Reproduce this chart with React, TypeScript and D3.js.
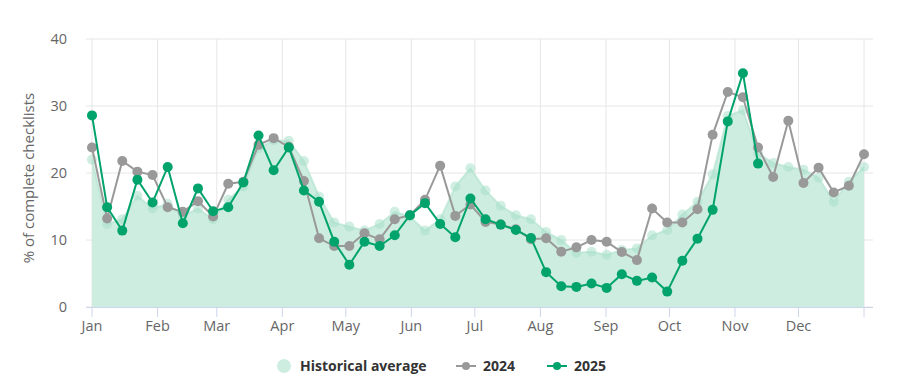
import React from "react";
import * as d3 from "d3";

const monthLabels = ["Jan", "Feb", "Mar", "Apr", "May", "Jun", "Jul", "Aug", "Sep", "Oct", "Nov", "Dec"];
const monthStartDays = [0, 31, 59, 90, 120, 151, 181, 212, 243, 273, 304, 334, 365];
const yTicks = [0, 10, 20, 30, 40];

const historical = [
  22.0, 12.4, 13.1, 16.6, 14.7, 15.4, 13.6, 14.7, 13.1, 16.0, 18.0, 23.7, 24.9, 24.8, 21.8, 16.5,
  12.6, 12.0, 11.4, 12.4, 14.2, 13.5, 11.4, 13.1, 18.0, 20.7, 17.4, 15.1, 13.7, 13.1, 11.2, 10.0,
  8.1, 8.25, 7.8, 8.5, 8.75, 10.7, 11.5, 13.8, 15.7, 19.8, 28.5, 29.4, 22.9, 21.5, 20.9, 20.5,
  19.3, 15.7, 18.7, 20.9,
];
const y2024 = [
  23.8, 13.2, 21.8, 20.2, 19.7, 14.9, 14.2, 15.8, 13.5, 18.4, 18.7, 24.2, 25.2, 23.9, 18.8, 10.25,
  9.1, 9.1, 11.0, 10.1, 13.1, 13.7, 16.0, 21.1, 13.6, 15.3, 12.7, 12.3, 11.6, 10.1, 10.25, 8.25,
  8.9, 10.0, 9.75, 8.2, 7.0, 14.7, 12.6, 12.6, 14.6, 25.7, 32.1, 31.3, 23.8, 19.4, 27.8, 18.5,
  20.8, 17.1, 18.1, 22.8,
];
const y2025 = [
  28.6, 14.9, 11.4, 19.0, 15.6, 20.9, 12.5, 17.7, 14.3, 14.9, 18.6, 25.6, 20.4, 23.8, 17.4, 15.7,
  9.75, 6.3, 9.75, 9.1, 10.7, 13.7, 15.5, 12.4, 10.4, 16.2, 13.1, 12.3, 11.5, 10.3, 5.2, 3.1,
  3.0, 3.5, 2.85, 4.9, 3.9, 4.4, 2.3, 6.9, 10.2, 14.5, 27.7, 34.9, 21.4,
];

const W = 910;
const H = 391;
const plotLeft = 86;
const plotRight = 873;
const dataLeft = 92;
const dataRight = 864;
const yTop = 39;
const yBottom = 307;

const GREEN = "#00a36c";
const GREY = "#999999";
const HIST_FILL = "#cdede1";
const HIST_MARK = "#a9e0cb";
const FONT = "'Open Sans', 'Noto Sans', sans-serif";

export default function App() {
  const xIdx = d3.scaleLinear().domain([0, 51]).range([dataLeft, dataRight]);
  const xDay = d3.scaleLinear().domain([0, 365]).range([dataLeft, dataRight]);
  const y = d3.scaleLinear().domain([0, 40]).range([yBottom, yTop]);

  const area = d3
    .area<number>()
    .x((_, i) => xIdx(i))
    .y0(y(0))
    .y1((d) => y(d));
  const line = d3
    .line<number>()
    .x((_, i) => xIdx(i))
    .y((d) => y(d));

  return (
    <svg
      width={W}
      height={H}
      style={{ position: "absolute", left: 0, top: 0, background: "#fff" }}
      fontFamily={FONT}
    >
      {yTicks.map((t) => (
        <line key={"h" + t} x1={plotLeft} x2={plotRight} y1={y(t)} y2={y(t)} stroke="#e6e6e6" strokeWidth={1} />
      ))}
      {monthStartDays.map((d) => (
        <line key={"v" + d} x1={xDay(d)} x2={xDay(d)} y1={yTop} y2={yBottom} stroke="#e6e6e6" strokeWidth={1} />
      ))}

      <path d={area(historical) || ""} fill={HIST_FILL} />
      <path d={line(historical) || ""} fill="none" stroke={HIST_MARK} strokeWidth={2} opacity={0.55} />
      {historical.map((v, i) => (
        <circle key={"hm" + i} cx={xIdx(i)} cy={y(v)} r={5} fill={HIST_MARK} opacity={0.55} />
      ))}

      <line x1={plotLeft} x2={plotRight} y1={yBottom + 0.5} y2={yBottom + 0.5} stroke="#ccd6eb" strokeWidth={1} />
      {monthStartDays.map((d) => (
        <line key={"t" + d} x1={xDay(d)} x2={xDay(d)} y1={yBottom} y2={yBottom + 10} stroke="#ccd6eb" strokeWidth={1} />
      ))}
      {monthLabels.map((m, i) => (
        <text key={m} x={xDay(monthStartDays[i])} y={331} textAnchor="middle" fontSize={14.5} fill="#666666">
          {m}
        </text>
      ))}

      {yTicks.map((t) => (
        <text key={"yl" + t} x={67} y={y(t) + 5} textAnchor="end" fontSize={14.5} fill="#666666">
          {t}
        </text>
      ))}
      <text
        transform={`translate(34,178) rotate(-90)`}
        textAnchor="middle"
        fontSize={15}
        fill="#666666"
      >
        % of complete checklists
      </text>

      <path d={line(y2024) || ""} fill="none" stroke={GREY} strokeWidth={2} />
      {y2024.map((v, i) => (
        <circle key={"g" + i} cx={xIdx(i)} cy={y(v)} r={5} fill={GREY} />
      ))}

      <path d={line(y2025) || ""} fill="none" stroke={GREEN} strokeWidth={2} />
      {y2025.map((v, i) => (
        <circle key={"n" + i} cx={xIdx(i)} cy={y(v)} r={5} fill={GREEN} />
      ))}

      <g fontSize={14} fontWeight="bold" fill="#333333">
        <circle cx={284} cy={366} r={7} fill={HIST_FILL} />
        <text x={300} y={371}>Historical average</text>
        <line x1={456} x2={476} y1={366} y2={366} stroke={GREY} strokeWidth={2} />
        <circle cx={466} cy={366} r={4} fill={GREY} />
        <text x={483} y={371}>2024</text>
        <line x1={547} x2={567} y1={366} y2={366} stroke={GREEN} strokeWidth={2} />
        <circle cx={557} cy={366} r={4} fill={GREEN} />
        <text x={574} y={371}>2025</text>
      </g>
    </svg>
  );
}
